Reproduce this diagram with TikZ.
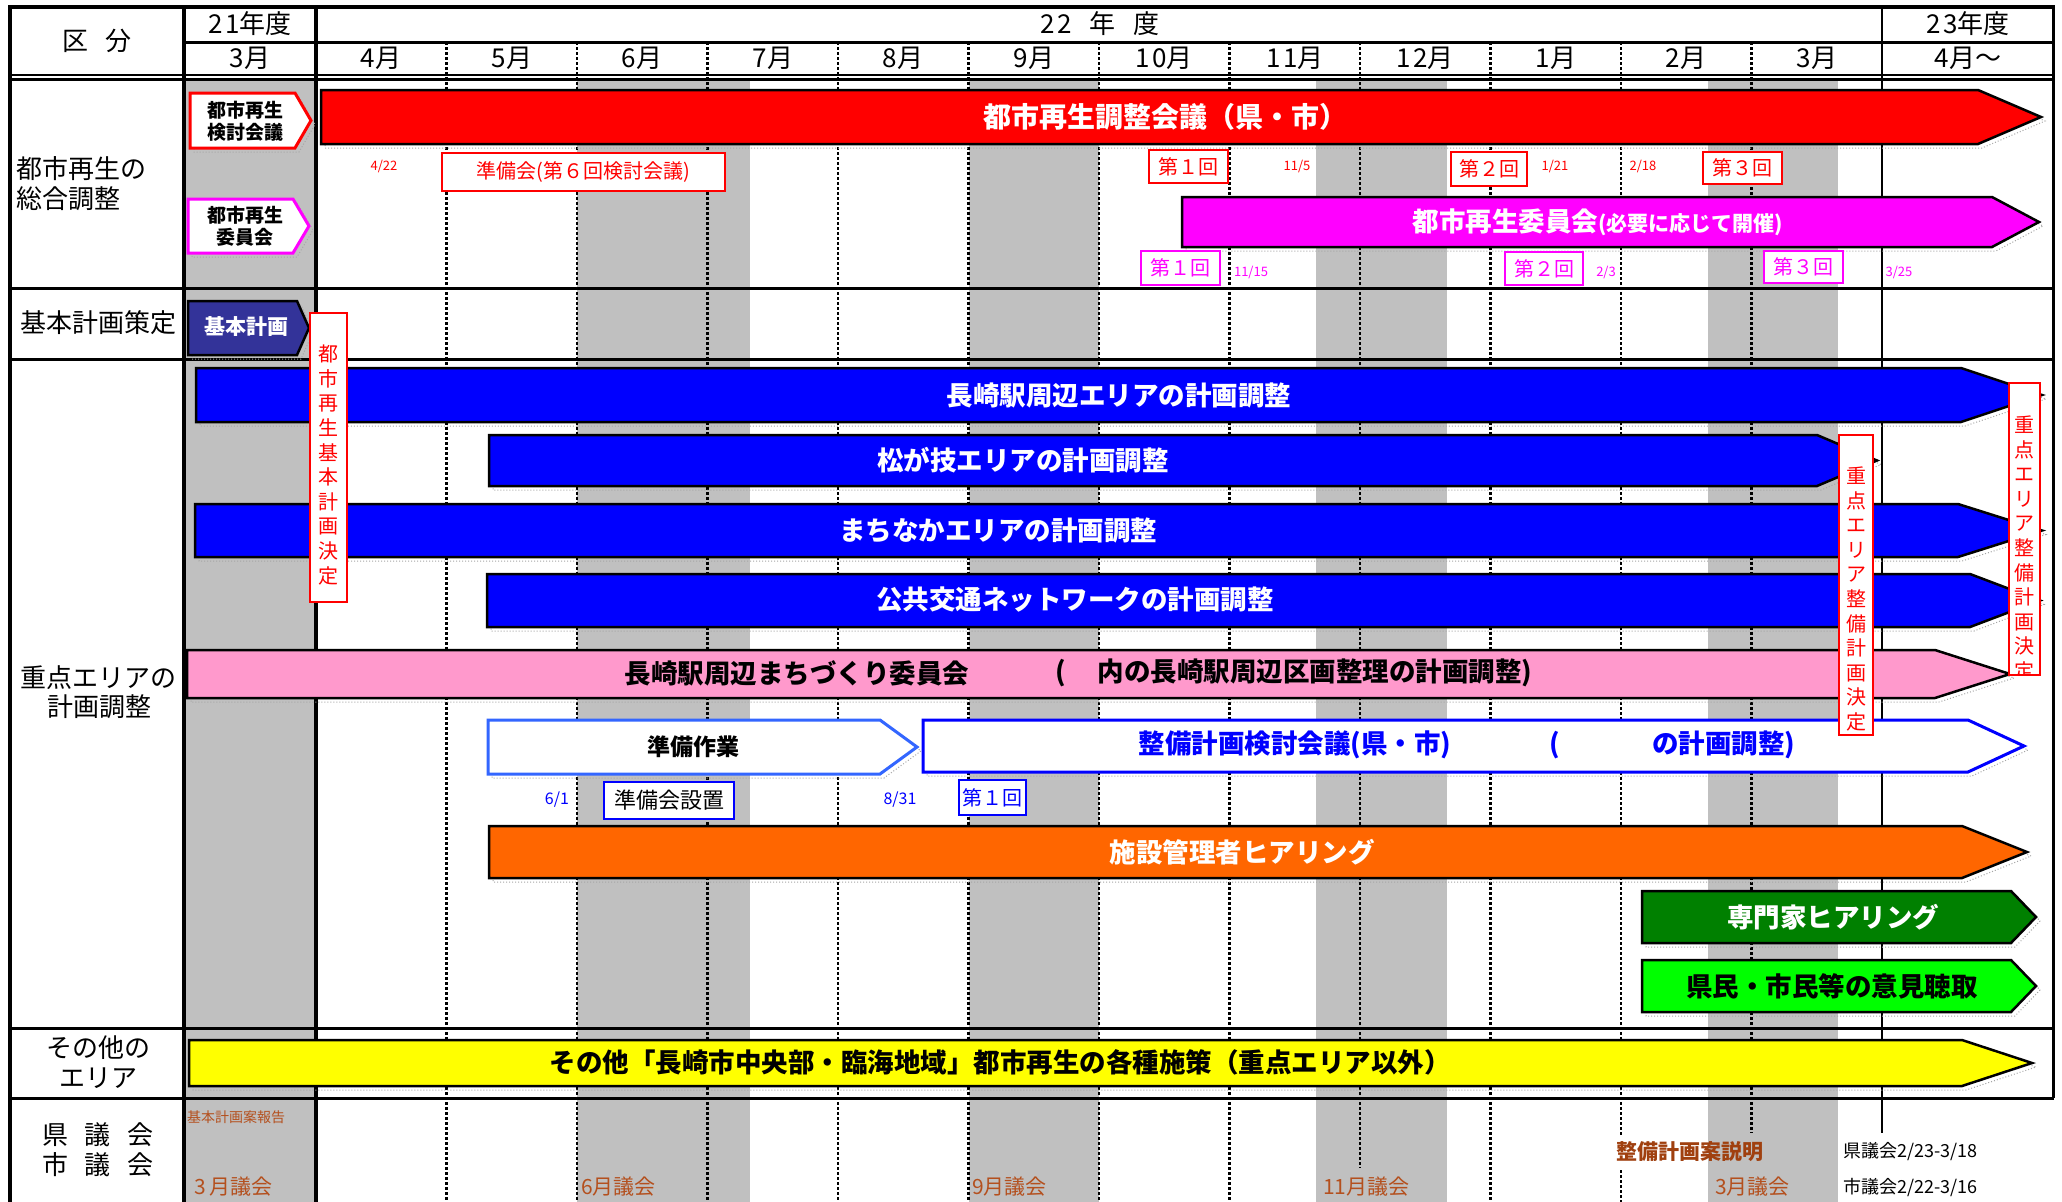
\documentclass[tikz,border=0pt]{standalone}
\usepackage{fontspec}
\setmainfont{Noto Sans CJK JP}
\definecolor{gband}{HTML}{C0C0C0}
\definecolor{kblue}{HTML}{333399}
\definecolor{pinkbar}{HTML}{FF99CC}
\definecolor{orangebar}{HTML}{FF6600}
\definecolor{dgreen}{HTML}{008000}
\definecolor{lgreen}{HTML}{00FF00}
\definecolor{prepblue}{HTML}{3366FF}
\definecolor{brownt}{HTML}{B4501E}
\definecolor{brownd}{HTML}{A0400F}
\definecolor{mag}{HTML}{FF00FF}
\definecolor{pblue}{HTML}{0000FF}
\definecolor{pred}{HTML}{FF0000}
\definecolor{pyellow}{HTML}{FFFF00}
\newcommand\gbar[6]{%
  \path[shadowline, shift={(4,4)}] (#2,#3) -- (#4,#3) -- (#6,{(#3+#5)/2}) -- (#4,#5) -- (#2,#5) -- cycle;
  \path[#1] (#2,#3) -- (#4,#3) -- (#6,{(#3+#5)/2}) -- (#4,#5) -- (#2,#5) -- cycle;}
\tikzset{
  lab/.style={font=\fontsize{26}{30}\selectfont, inner sep=0pt},
  hdr/.style={font=\fontsize{26}{30}\selectfont, inner sep=0pt},
  btx/.style={font=\fontsize{26.5}{30}\selectfont\bfseries, inner sep=0pt},
  dt/.style={font=\fontsize{13}{15}\selectfont, inner sep=0pt},
  dtb/.style={font=\fontsize{16}{18}\selectfont, inner sep=0pt, text=pblue},
  tagbox/.style={draw, fill=white, line width=2.5pt, inner sep=0pt, font=\fontsize{20}{22}\selectfont},
  shadowline/.style={draw=gray!70, dotted, line width=1pt},
  gdash/.style={line width=2.2pt, dash pattern=on 3pt off 2pt},
  vtext/.style={align=center, font=\fontsize{20}{24.6}\selectfont, text=pred, inner sep=0pt},
  vbox/.style={draw=pred, fill=white, line width=2.5pt},
  barline/.style={draw=black, line width=2.5pt},
  council/.style={font=\fontsize{21}{24}\selectfont, text=brownt, inner sep=0pt, anchor=west},
}
\begin{document}
\begin{tikzpicture}[x=1pt,y=-1pt]
\useasboundingbox (0,0) rectangle (2062,1202);
\fill[white] (0,0) rectangle (2062,1202);
% gray bands
\fill[gband] (186,79) rectangle (316,1202);
\fill[gband] (577,79) rectangle (750,1202);
\fill[gband] (968.5,79) rectangle (1099,1202);
\fill[gband] (1316,79) rectangle (1447,1202);
\fill[gband] (1708,79) rectangle (1838,1202);
% dashed month lines
\foreach \x in {446.5,577,707.5,838,968.5,1099,1229.5,1490.5}
  \draw[gdash] (\x,42) -- (\x,1202);
\draw[gdash] (1360,42) -- (1360,1168);
\draw[gdash] (1621,42) -- (1621,1135);
\draw[gdash] (1621,1170) -- (1621,1202);
\draw[gdash] (1751.5,42) -- (1751.5,1133);
% solid verticals
\draw[line width=3.5pt] (184,7) -- (184,1202);
\draw[line width=3.5pt] (316,7) -- (316,1202);
\draw[line width=2.2pt] (1882,7) -- (1882,1133);
% borders and rows
\draw[line width=4pt] (8,7) -- (2055,7);
\draw[line width=4pt] (10,5) -- (10,1202);
\draw[line width=3pt] (2053,5) -- (2053,1098);
\draw[line width=3pt] (184,42) -- (2054,42);
\draw[line width=2.5pt] (10,75) -- (2054,75);
\draw[line width=2.5pt] (10,79.5) -- (2054,79.5);
\foreach \y in {288,359,1028,1098}
  \draw[line width=3pt] (10,\y) -- (2054,\y);

% header texts
\node[hdr] (h0) at (97,41) {区\hspace{18pt}分};
\node[hdr] (h21) at (250,24) {2\hspace{3pt}1年度};
\node[hdr] (h22) at (1100,24) {2\hspace{3pt}2\hspace{18pt}年\hspace{18pt}度};
\node[hdr] (h23) at (1968,24) {2\hspace{3pt}3年度};
\node[hdr] (m3a) at (250,58) {3月};
\node[hdr] (m4) at (381,58) {4月};
\node[hdr] (m5) at (512,58) {5月};
\node[hdr] (m6) at (642,58) {6月};
\node[hdr] (m7) at (773,58) {7月};
\node[hdr] (m8) at (903,58) {8月};
\node[hdr] (m9) at (1034,58) {9月};
\node[hdr] (m10) at (1164,58) {1\hspace{3pt}0月};
\node[hdr] (m11) at (1295,58) {1\hspace{3pt}1月};
\node[hdr] (m12) at (1425,58) {1\hspace{3pt}2月};
\node[hdr] (m1) at (1556,58) {1月};
\node[hdr] (m2) at (1686,58) {2月};
\node[hdr] (m3b) at (1817,58) {3月};
\node[hdr] (m4b) at (1968,58) {4月～};

% row labels
\node[lab, anchor=west] (l1a) at (16,169) {都市再生の};
\node[lab, anchor=west] (l1b) at (16,199) {総合調整};
\node[lab] (l2) at (98,323) {基本計画策定};
\node[lab] (l3a) at (98,678) {重点エリアの};
\node[lab] (l3b) at (99,707) {計画調整};
\node[lab] (l4a) at (98,1048) {その他の};
\node[lab] (l4b) at (98,1078) {エリア};
\node[lab] (l5a) at (98,1135) {県\hspace{17pt}議\hspace{17pt}会};
\node[lab] (l5b) at (98,1165) {市\hspace{17pt}議\hspace{17pt}会};

% row 1
\gbar{draw=pred, fill=white, line width=3pt}{190}{93}{295}{148}{311}
\node[font=\fontsize{19}{22}\selectfont\bfseries, align=center, inner sep=0pt] (kentou) at (245,121) {都市再生\\検討会議};
\gbar{draw=mag, fill=white, line width=3pt}{188}{199}{293}{253}{309}
\node[font=\fontsize{19}{22}\selectfont\bfseries, align=center, inner sep=0pt] (iinkai) at (245,226) {都市再生\\委員会};
\gbar{barline, fill=pred}{321}{90}{1978}{144}{2041}
\node[btx, text=white, font=\fontsize{28}{30}\selectfont\bfseries] (chousei) at (1165,117) {都市再生調整会議（県・市）};
\gbar{barline, fill=mag}{1182}{197}{1992}{247}{2039}
\node[btx, text=white] (magt) at (1598,222) {都市再生委員会{\fontsize{21}{24}\selectfont\bfseries (必要に応じて開催)}};

\node[tagbox, draw=pred, text=pred, minimum width=283pt, minimum height=38pt] (junbikai) at (583.5,172) {準備会(第６回検討会議)};
\node[tagbox, draw=pred, text=pred, minimum width=79pt, minimum height=33pt] (r1) at (1188.5,166.5) {第１回};
\node[tagbox, draw=pred, text=pred, minimum width=76pt, minimum height=34pt] (r2) at (1489,169) {第２回};
\node[tagbox, draw=pred, text=pred, minimum width=79pt, minimum height=32pt] (r3) at (1742.5,168) {第３回};
\node[tagbox, draw=mag, text=mag, minimum width=79pt, minimum height=34pt] (p1) at (1180.5,268) {第１回};
\node[tagbox, draw=mag, text=mag, minimum width=78pt, minimum height=33pt] (p2) at (1544,268.5) {第２回};
\node[tagbox, draw=mag, text=mag, minimum width=79pt, minimum height=32pt] (p3) at (1803.5,267) {第３回};
\node[dt, text=pred] (d422) at (384,166) {4/22};
\node[dt, text=pred] (d115) at (1297,166) {11/5};
\node[dt, text=pred] (d121) at (1555,166) {1/21};
\node[dt, text=pred] (d218) at (1643,166) {2/18};
\node[dt, text=mag] (d1115) at (1251,272) {11/15};
\node[dt, text=mag] (d23) at (1606,272) {2/3};
\node[dt, text=mag] (d325) at (1899,272) {3/25};

% row 2
\gbar{barline, fill=kblue}{188}{301}{297}{355}{309}
\node[font=\fontsize{21}{24}\selectfont\bfseries, text=white, inner sep=0pt] (kihon) at (246,327) {基本計画};

% row 3 bars
\gbar{barline, fill=pblue}{196}{368}{1961}{422}{2042}
\node[btx, text=white] (b1) at (1119,395) {長崎駅周辺エリアの計画調整};
\gbar{barline, fill=pblue}{489}{435}{1817}{486}{1877}
\node[btx, text=white] (b2) at (1023,460) {松が技エリアの計画調整};
\gbar{barline, fill=pblue}{195}{504}{1958}{557}{2042}
\node[btx, text=white] (b3) at (998,530) {まちなかエリアの計画調整};
\gbar{barline, fill=pblue}{487}{574}{1970}{627}{2040}
\node[btx, text=white] (b4) at (1075,600) {公共交通ネットワークの計画調整};
\gbar{barline, fill=pinkbar}{187}{650}{1935}{698}{2010}
\node[btx] (pk1) at (797,673) {長崎駅周辺まちづくり委員会};
\node[btx] (pk2) at (1061,673) {(};
\node[btx] (pk3) at (1315,673) {内の長崎駅周辺区画整理の計画調整)};

\gbar{draw=prepblue, fill=white, line width=3pt}{488}{720}{880}{774}{917}
\node[btx, font=\fontsize{23}{26}\selectfont\bfseries] (junbi) at (693,747) {準備作業};
\gbar{draw=pblue, fill=white, line width=3pt}{923}{720}{1968}{772}{2024}
\node[btx, text=pblue] (seibi1) at (1295,745) {整備計画検討会議(県・市)};
\node[btx, text=pblue] (seibi2) at (1555,745) {(};
\node[btx, text=pblue] (seibi3) at (1724,745) {の計画調整)};
\node[dtb] (d61) at (557,800) {6/1};
\node[tagbox, draw=pblue, text=black, minimum width=130pt, minimum height=37pt, font=\fontsize{22}{24}\selectfont] (setchi) at (669,800.5) {準備会設置};
\node[dtb] (d831) at (900,800) {8/31};
\node[tagbox, draw=pblue, text=pblue, minimum width=67pt, minimum height=35pt] (bl1) at (992.5,797.5) {第１回};

\gbar{barline, fill=orangebar}{489}{826}{1962}{878}{2027}
\node[btx, text=white] (hear1) at (1242,852) {施設管理者ヒアリング};
\gbar{barline, fill=dgreen}{1642}{891}{2011}{943}{2036}
\node[btx, text=white] (hear2) at (1833,917) {専門家ヒアリング};
\gbar{barline, fill=lgreen}{1642}{960}{2011}{1012}{2036}
\node[btx] (iken) at (1832,986) {県民・市民等の意見聴取};

% vertical decision boxes
\draw[vbox] (310,313) rectangle (347,602);
\node[vtext] (vleft) at (328.5,465) {都\\市\\再\\生\\基\\本\\計\\画\\決\\定};
\draw[vbox] (1839,435) rectangle (1873,735);
\node[vtext] (vmid) at (1856,599) {重\\点\\エ\\リ\\ア\\整\\備\\計\\画\\決\\定};
\fill[white] (2009,383) rectangle (2040,675);
\begin{scope}
  \clip (2009,383) rectangle (2040,675);
  \node[vtext] (vright) at (2024.5,548) {重\\点\\エ\\リ\\ア\\整\\備\\計\\画\\決\\定};
\end{scope}
\draw[pred, line width=2.5pt] (2009,383) rectangle (2040,675);

% row 4
\gbar{barline, fill=pyellow}{189}{1040}{1962}{1086}{2032}
\node[btx] (other) at (1000,1062) {その他「長崎市中央部・臨海地域」都市再生の各種施策（重点エリア以外）};

% row 5
\node[font=\fontsize{14}{16}\selectfont, text=brownt, inner sep=0pt, anchor=west] (kh) at (187,1117) {基本計画案報告};
\node[council] (c3) at (194,1187) {3\hspace{4pt}月議会};
\node[council] (c6) at (581,1187) {6月議会};
\node[council] (c9) at (972,1187) {9月議会};
\node[council] (c11) at (1323,1187) {11月議会};
\node[font=\fontsize{21}{24}\selectfont\bfseries, text=brownd, inner sep=0pt, anchor=west] (sb) at (1616,1152) {整備計画案説明};
\node[council] (c3b) at (1715,1187) {3月議会};
\node[font=\fontsize{18}{20}\selectfont, inner sep=0pt, anchor=west] (kg) at (1843,1152) {県議会2/23-3/18};
\node[font=\fontsize{18}{20}\selectfont, inner sep=0pt, anchor=west] (sg) at (1843,1187) {市議会2/22-3/16};
\end{tikzpicture}
\end{document}
